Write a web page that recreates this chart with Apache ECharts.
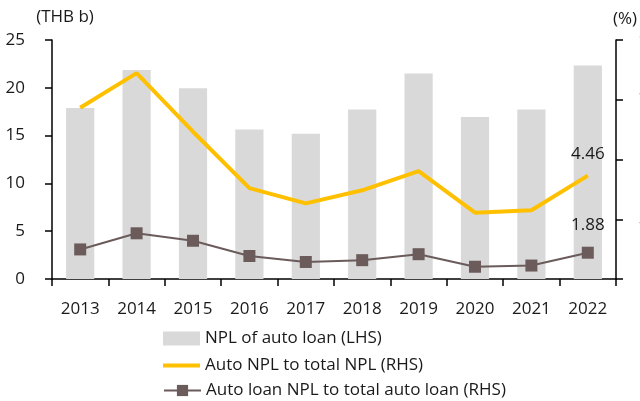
<!DOCTYPE html>
<html><head><meta charset="utf-8">
<script src="https://cdn.jsdelivr.net/npm/echarts@6/dist/echarts.min.js"></script>
<style>html,body{margin:0;padding:0;background:#fff}#c{width:640px;height:401px}</style>
</head><body><div id="c"></div>
<script>
var years = ['2013','2014','2015','2016','2017','2018','2019','2020','2021','2022'];
var nplAutoLoan = [17.9, 21.85, 19.95, 15.65, 15.2, 17.72, 21.5, 16.94, 17.72, 22.34];
var autoNplToTotalNpl = [6.73, 7.89, 5.93, 4.04, 3.53, 3.97, 4.61, 3.22, 3.30, 4.46];
var autoLoanNplRatio = [1.99, 2.53, 2.28, 1.77, 1.57, 1.63, 1.83, 1.41, 1.45, 1.88];
var leftTicks = [0, 5, 10, 15, 20, 25];
var rightTicks = [1, 3, 5, 7, 9];

var FONT = 'Open Sans';
var chart = echarts.init(document.getElementById('c'), null, {renderer: 'canvas'});
function lastLabel(arr) {
  return arr.map(function (v, i) {
    if (i === arr.length - 1) {
      return {value: v, label: {show: true, position: 'top', distance: 13,
        formatter: function (p) { return p.value.toFixed(2); },
        color: '#1a1a1a', fontSize: 17, fontFamily: FONT}};
    }
    return v;
  });
}
var legendText = {fontSize: 17, color: '#1a1a1a', fontFamily: FONT};
chart.setOption({
  animation: false,
  textStyle: {fontFamily: FONT},
  grid: {left: 52, right: 24, top: 40, bottom: 122, containLabel: false, outerBoundsMode: 'none'},
  legend: [
    {left: 163, top: 330, padding: 0, itemWidth: 37, itemHeight: 14, textStyle: legendText,
     data: [{name: 'NPL of auto loan (LHS)', icon: 'rect'}]},
    {left: 163, top: 357, padding: 0, itemWidth: 37, itemHeight: 4, textStyle: legendText,
     data: [{name: 'Auto NPL to total NPL (RHS)', icon: 'rect'}]},
    {left: 163, top: 382, padding: 0, itemWidth: 37, itemHeight: 14, textStyle: legendText,
     data: [{name: 'Auto loan NPL to total auto loan (RHS)'}]}
  ],
  xAxis: {
    type: 'category', data: years,
    axisLine: {lineStyle: {color: '#000', width: 1.5}},
    axisTick: {show: true, length: 7, alignWithLabel: false, lineStyle: {color: '#000', width: 1.5}},
    axisLabel: {color: '#1a1a1a', fontSize: 17, margin: 22, fontFamily: FONT}
  },
  yAxis: [
    {
      type: 'value', min: leftTicks[0], max: leftTicks[leftTicks.length - 1], interval: 5,
      name: '(THB b)', nameLocation: 'end', nameGap: 14,
      nameTextStyle: {color: '#1a1a1a', fontSize: 17, align: 'center', padding: [0, 0, 0, 26], fontFamily: FONT},
      axisLine: {show: true, lineStyle: {color: '#000', width: 1.5}},
      axisTick: {show: true, length: 7, lineStyle: {color: '#000', width: 1.5}},
      axisLabel: {color: '#1a1a1a', fontSize: 17, margin: 27, fontFamily: FONT},
      splitLine: {show: false}
    },
    {
      type: 'value', min: rightTicks[0], max: rightTicks[rightTicks.length - 1], interval: 2,
      name: '(%)', nameLocation: 'end', nameGap: 12,
      nameTextStyle: {color: '#1a1a1a', fontSize: 17, align: 'left', padding: [0, 0, 0, -3], fontFamily: FONT},
      axisLine: {show: true, lineStyle: {color: '#000', width: 1.5}},
      axisTick: {show: true, length: 7, lineStyle: {color: '#000', width: 1.5}},
      axisLabel: {color: '#1a1a1a', fontSize: 17, margin: 23, fontFamily: FONT},
      splitLine: {show: false}
    }
  ],
  series: [
    {
      name: 'NPL of auto loan (LHS)', type: 'bar', yAxisIndex: 0,
      data: nplAutoLoan, barWidth: '50%',
      itemStyle: {color: '#d9d9d9'}
    },
    {
      name: 'Auto NPL to total NPL (RHS)', type: 'line', yAxisIndex: 1,
      data: lastLabel(autoNplToTotalNpl), symbol: 'circle', symbolSize: 0.1, showSymbol: true,
      lineStyle: {color: '#FFC000', width: 4}, itemStyle: {color: '#FFC000'}
    },
    {
      name: 'Auto loan NPL to total auto loan (RHS)', type: 'line', yAxisIndex: 1,
      data: lastLabel(autoLoanNplRatio), symbol: 'rect', symbolSize: 12,
      lineStyle: {color: '#6b5b5b', width: 2}, itemStyle: {color: '#6b5b5b'}
    }
  ]
});
</script></body></html>
